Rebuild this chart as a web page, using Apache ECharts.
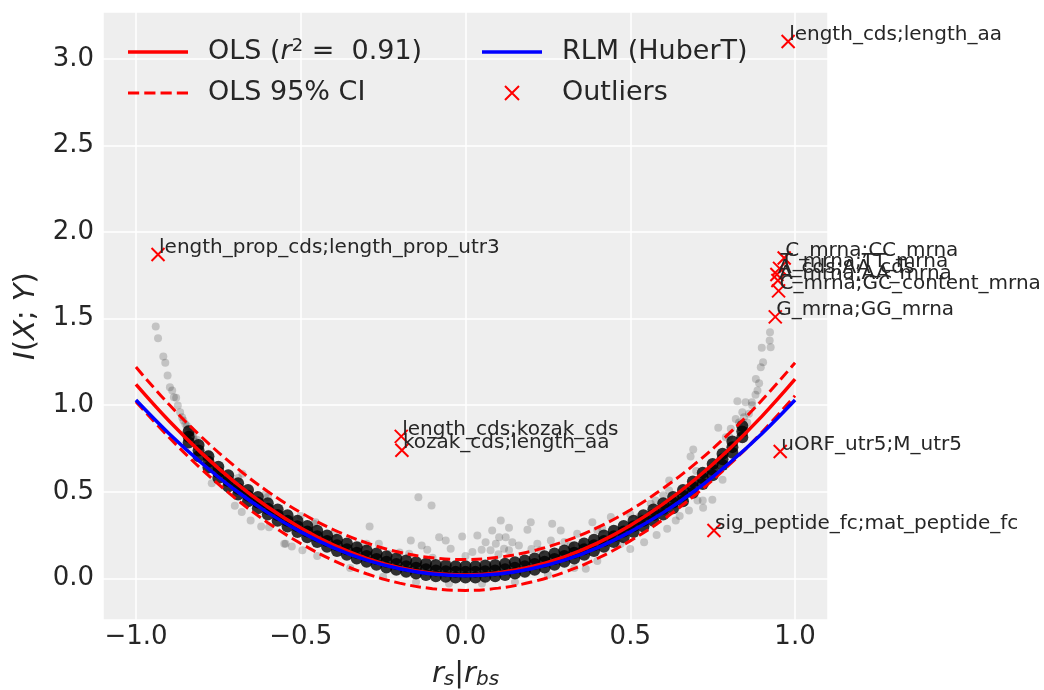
<!DOCTYPE html>
<html><head><meta charset="utf-8">
<script src="https://cdn.jsdelivr.net/npm/echarts@6/dist/echarts.min.js"></script>
<style>html,body{margin:0;padding:0;background:#fff}#c{width:1044px;height:690px}</style>
</head><body><div id="c"></div><script>
const fitX = [-1,-0.9,-0.8,-0.7,-0.6,-0.5,-0.4,-0.3,-0.2,-0.1,0,0.1,0.2,0.3,0.4,0.5,0.6,0.7,0.8,0.9,1];
const olsY = [1.12,0.91,0.722,0.556,0.412,0.291,0.192,0.116,0.062,0.030,0.020,0.033,0.068,0.125,0.204,0.306,0.430,0.577,0.746,0.937,1.15];
const ciUpperY = [1.22,1.005,0.815,0.647,0.502,0.38,0.281,0.205,0.151,0.119,0.109,0.122,0.157,0.214,0.293,0.395,0.52,0.667,0.837,1.03,1.245];
const ciLowerY = [1.02,0.815,0.629,0.465,0.322,0.202,0.103,0.027,-0.027,-0.059,-0.069,-0.056,-0.021,0.036,0.115,0.217,0.34,0.487,0.655,0.845,1.055];
const rlmY = [1.03,0.837,0.665,0.512,0.380,0.269,0.177,0.106,0.056,0.025,0.015,0.025,0.056,0.106,0.177,0.269,0.380,0.512,0.665,0.837,1.03];

// dense core of the point cloud (lower, middle and upper rows)
const coreX = [-0.84,-0.81,-0.78,-0.75,-0.72,-0.69,-0.66,-0.63,-0.60,-0.57,-0.54,-0.51,-0.48,-0.45,-0.42,-0.39,-0.36,-0.33,-0.30,-0.27,-0.24,-0.21,-0.18,-0.15,-0.12,-0.09,-0.06,-0.03,0,
  0.03,0.06,0.09,0.12,0.15,0.18,0.21,0.24,0.27,0.30,0.33,0.36,0.39,0.42,0.45,0.48,0.51,0.54,0.57,0.60,0.63,0.66,0.69,0.72,0.75,0.78,0.81,0.84];
const coreLoY = [0.785,0.705,0.640,0.580,0.530,0.485,0.445,0.405,0.369,0.333,0.300,0.268,0.238,0.210,0.183,0.159,0.136,0.115,0.096,0.079,0.063,0.050,0.038,0.028,0.020,0.013,0.009,0.006,0.005,
  0.006,0.009,0.013,0.020,0.028,0.038,0.050,0.063,0.079,0.096,0.115,0.136,0.159,0.183,0.210,0.238,0.268,0.300,0.333,0.369,0.405,0.445,0.495,0.545,0.595,0.655,0.725,0.815];
const coreMidY = [0.818,0.738,0.673,0.613,0.563,0.518,0.478,0.438,0.402,0.366,0.333,0.301,0.271,0.243,0.216,0.192,0.169,0.148,0.129,0.112,0.096,0.083,0.071,0.061,0.053,0.046,0.042,0.039,0.038,
  0.039,0.042,0.046,0.053,0.061,0.071,0.083,0.096,0.112,0.129,0.148,0.169,0.192,0.216,0.243,0.271,0.301,0.333,0.366,0.402,0.438,0.478,0.528,0.578,0.628,0.688,0.758,0.848];
const coreHiY = [0.850,0.770,0.705,0.645,0.595,0.550,0.510,0.470,0.434,0.398,0.365,0.333,0.303,0.275,0.248,0.224,0.201,0.180,0.161,0.144,0.128,0.115,0.103,0.093,0.085,0.078,0.074,0.071,0.070,
  0.071,0.074,0.078,0.085,0.093,0.103,0.115,0.128,0.144,0.161,0.180,0.201,0.224,0.248,0.275,0.303,0.333,0.365,0.398,0.434,0.470,0.510,0.560,0.610,0.660,0.720,0.790,0.880];

// sparse points of the cloud
const cloudPoints = [
  [-0.940,1.454],[-0.933,1.387],[-0.917,1.281],[-0.911,1.245],[-0.904,1.171],[-0.897,1.104],[-0.890,1.085],[-0.885,1.046],[-0.878,1.043],[-0.873,0.998],[-0.866,0.960],[-0.856,0.912],[-0.850,0.890],[-0.841,0.864],[-0.835,0.840],[-0.826,0.815],[-0.820,0.790],
  [-0.860,0.930],[-0.845,0.880],[-0.830,0.830],[-0.815,0.800],
  [-0.677,0.604],[-0.679,0.383],[-0.652,0.335],[-0.596,0.296],[-0.546,0.200],[-0.527,0.185],[-0.606,0.489],[-0.455,0.325],[-0.460,0.316],[-0.495,0.162],
  [-0.323,0.190],[-0.291,0.300],[-0.263,0.200],[-0.232,0.143],[-0.171,0.143],[-0.166,0.219],[-0.143,0.469],[-0.133,0.190],[-0.116,0.166],[-0.103,0.421],[-0.080,0.238],[-0.060,0.219],[-0.045,0.171],[-0.010,0.242],
  [0.021,0.152],[0.036,0.248],[0.049,0.166],[0.061,0.209],[0.076,0.162],[0.081,0.277],[0.092,0.200],[0.102,0.238],[0.107,0.335],[0.117,0.171],[0.122,0.238],[0.132,0.292],[0.132,0.162],[0.142,0.209],[0.162,0.190],[0.188,0.281],[0.198,0.325],[0.218,0.200],[0.228,0.162],[0.259,0.219],[0.263,0.316],[0.289,0.277],[0.319,0.190],[0.339,0.258],[0.354,0.200],[0.385,0.325],[0.415,0.287],[0.441,0.354],[0.471,0.200],
  [0.527,0.354],[0.542,0.209],[0.562,0.431],[0.577,0.450],[0.612,0.287],[0.618,0.565],[0.618,0.508],[0.638,0.335],[0.678,0.392],[0.683,0.704],[0.691,0.744],[0.704,0.450],[0.721,0.408],[0.749,0.454],[0.767,0.870],[0.790,0.815],[0.805,0.864],[0.820,0.921],[0.825,1.023],[0.840,0.960],[0.850,1.017],[0.869,1.017],[0.881,1.152],[0.886,1.085],[0.891,1.127],[0.896,1.219],[0.899,1.331],[0.903,1.248],[0.923,1.373],[0.924,1.421],[0.926,1.335],[0.365,0.056],
  [0.830,0.900],[0.860,0.950],[0.870,1.000],[0.880,1.060],[0.855,0.900],[0.845,0.930],
  [-0.35,0.06],[-0.25,0.01],[-0.15,-0.02],[-0.05,-0.03],[0.05,-0.03],[0.15,-0.02],[0.25,0.02],[0.33,0.06],[0.40,0.10],[-0.45,0.13],[-0.55,0.20],[0.50,0.17],[0.58,0.25],[-0.62,0.30],[0.65,0.36],[-0.70,0.42],[0.72,0.45],[-0.77,0.55],[0.78,0.57],
  [-0.40,0.26],[-0.30,0.20],[-0.20,0.15],[-0.10,0.12],[0.00,0.13],[0.10,0.14],[0.20,0.17],[0.30,0.21],[0.40,0.28],[0.50,0.37],[-0.50,0.36],[0.60,0.48],[-0.60,0.47],[-0.69,0.58],[0.70,0.62],[-0.78,0.72],[0.80,0.82]
];

const outlierNames = ['length_cds;length_aa','length_prop_cds;length_prop_utr3','C_mrna;CC_mrna','T_mrna;TT_mrna','A_cds;AA_cds','A_mrna;AA_mrna','C_mrna;GC_content_mrna','G_mrna;GG_mrna','length_cds;kozak_cds','kozak_cds;length_aa','uORF_utr5;M_utr5','sig_peptide_fc;mat_peptide_fc'];
const outlierX = [0.979,-0.933,0.967,0.953,0.945,0.948,0.950,0.940,-0.195,-0.193,0.955,0.754];
const outlierY = [3.10,1.87,1.85,1.79,1.755,1.72,1.66,1.51,0.82,0.74,0.733,0.277];

const FONT = 'DejaVu Sans';
const TXT = '#262626';
const zip = (xs, ys) => xs.map((x, i) => [x, ys[i]]);
const isHalf = v => Math.abs(v * 2 - Math.round(v * 2)) < 1e-6;
const fmtTick = v => isHalf(v) ? (v < -1e-9 ? '\u2212' : '') + Math.abs(v).toFixed(1) : '';
const SOLID_ICON = 'path://M0,0H60V3.5H0Z';
const DASH_ICON = 'path://M0,0H11V3H0Z M16,0H27V3H16Z M32,0H43V3H32Z M48,0H59V3H48Z';
const CROSS_ICON = 'path://M0,0L10,10M10,0L0,10';

const chart = echarts.init(document.getElementById('c'));
const option = {
  animation: false,
  backgroundColor: '#ffffff',
  grid: {left: 103, right: 216, top: 12, bottom: 70, show: true, backgroundColor: '#eeeeee', borderWidth: 0,
         containLabel: false, outerBoundsMode: 'none'},
  xAxis: {
    type: 'value', min: -1.1, max: 1.1,
    axisLine: {show: false}, axisTick: {show: false},
    splitLine: {lineStyle: {color: '#ffffff', width: 1.5}},
    axisLabel: {fontFamily: FONT, fontSize: 26, color: TXT, margin: 4, formatter: fmtTick},
    name: '{i|r}{s|s}{n||}{i|r}{s|bs}', nameLocation: 'middle', nameGap: 39,
    nameTextStyle: {fontFamily: FONT, fontSize: 29, color: TXT, rich: {
      i: {fontFamily: FONT, fontSize: 29, fontStyle: 'italic', color: TXT},
      n: {fontFamily: FONT, fontSize: 29, color: TXT},
      s: {fontFamily: FONT, fontSize: 20, fontStyle: 'italic', color: TXT, verticalAlign: 'bottom', padding: [11, 0, 0, 0]}
    }}
  },
  yAxis: {
    type: 'value', min: -0.24, max: 3.27, splitNumber: 7,
    axisLine: {show: false}, axisTick: {show: false},
    splitLine: {lineStyle: {color: '#ffffff', width: 1.5}},
    axisLabel: {fontFamily: FONT, fontSize: 26, color: TXT, margin: 9, formatter: fmtTick},
    name: '{i|I}{n|(}{i|X}{n|; }{i|Y}{n|)}', nameLocation: 'middle', nameGap: 62, nameRotate: 90,
    nameTextStyle: {fontFamily: FONT, fontSize: 29, color: TXT, rich: {
      i: {fontFamily: FONT, fontSize: 29, fontStyle: 'italic', color: TXT},
      n: {fontFamily: FONT, fontSize: 29, color: TXT}
    }}
  },
  legend: [
    {left: 128, top: 37, padding: 0, orient: 'vertical', itemWidth: 60, itemHeight: 14, itemGap: 11,
     data: [{name: 'OLS (r\u00b2 =  0.91)', icon: SOLID_ICON}, {name: 'OLS 95% CI', icon: DASH_ICON}],
     formatter: n => n.indexOf('OLS (') === 0 ? '{n|OLS (}{i|r}{p|2}{n| =  0.91)}' : '{n|' + n + '}',
     itemStyle: {color: '#ff0000', borderWidth: 0},
     textStyle: {fontFamily: FONT, fontSize: 27, color: TXT, lineHeight: 30, padding: [0, 0, 0, 15], rich: {
       n: {fontFamily: FONT, fontSize: 27, color: TXT},
       i: {fontFamily: FONT, fontSize: 27, fontStyle: 'italic', color: TXT},
       p: {fontFamily: FONT, fontSize: 18, color: TXT, verticalAlign: 'top'}
     }}},
    {left: 482, top: 37, padding: 0, orient: 'vertical', itemWidth: 60, itemHeight: 14, itemGap: 11,
     data: [{name: 'RLM (HuberT)', icon: SOLID_ICON, itemStyle: {color: '#0000ff', borderWidth: 0}},
            {name: 'Outliers', icon: CROSS_ICON, itemStyle: {color: 'rgba(0,0,0,0)', borderColor: '#ff0000', borderWidth: 2}}],
     textStyle: {fontFamily: FONT, fontSize: 27, color: TXT, lineHeight: 30, padding: [0, 0, 0, 15]}}
  ],
  series: [
    {type: 'scatter', name: 'cloud', data: cloudPoints, symbolSize: 8, silent: true,
     itemStyle: {color: 'rgba(0,0,0,0.18)', opacity: 1}, z: 1},
    {type: 'scatter', name: 'core', data: zip(coreX, coreLoY).concat(zip(coreX, coreMidY), zip(coreX, coreHiY)), symbolSize: 12, silent: true,
     itemStyle: {color: 'rgba(0,0,0,0.8)', opacity: 1}, z: 1},
    {type: 'line', name: 'OLS (r\u00b2 =  0.91)', data: zip(fitX, olsY), smooth: 0.4, symbol: 'none', showSymbol: false,
     lineStyle: {color: '#ff0000', width: 3.5}, itemStyle: {color: '#ff0000'}, z: 3},
    {type: 'line', name: 'OLS 95% CI', data: zip(fitX, ciUpperY), smooth: 0.4, symbol: 'none', showSymbol: false,
     lineStyle: {color: '#ff0000', width: 3, type: [11, 5]}, itemStyle: {color: '#ff0000'}, z: 3},
    {type: 'line', name: 'OLS 95% CI', data: zip(fitX, ciLowerY), smooth: 0.4, symbol: 'none', showSymbol: false,
     lineStyle: {color: '#ff0000', width: 3, type: [11, 5]}, itemStyle: {color: '#ff0000'}, z: 3},
    {type: 'line', name: 'RLM (HuberT)', data: zip(fitX, rlmY), smooth: 0.4, symbol: 'none', showSymbol: false,
     lineStyle: {color: '#0000ff', width: 3.5}, itemStyle: {color: '#0000ff'}, z: 4},
    {type: 'scatter', name: 'Outliers', symbol: CROSS_ICON, symbolSize: 13,
     data: outlierX.map((x, i) => ({value: [x, outlierY[i]], name: outlierNames[i]})),
     itemStyle: {color: 'rgba(0,0,0,0)', borderColor: '#ff0000', borderWidth: 2, opacity: 1},
     label: {show: true, position: 'inside', align: 'left', verticalAlign: 'bottom', offset: [1, 3],
       formatter: p => p.name, fontFamily: FONT, fontSize: 20, color: TXT},
     emphasis: {disabled: true}, z: 5}
  ]
};
chart.setOption(option);
</script></body></html>
